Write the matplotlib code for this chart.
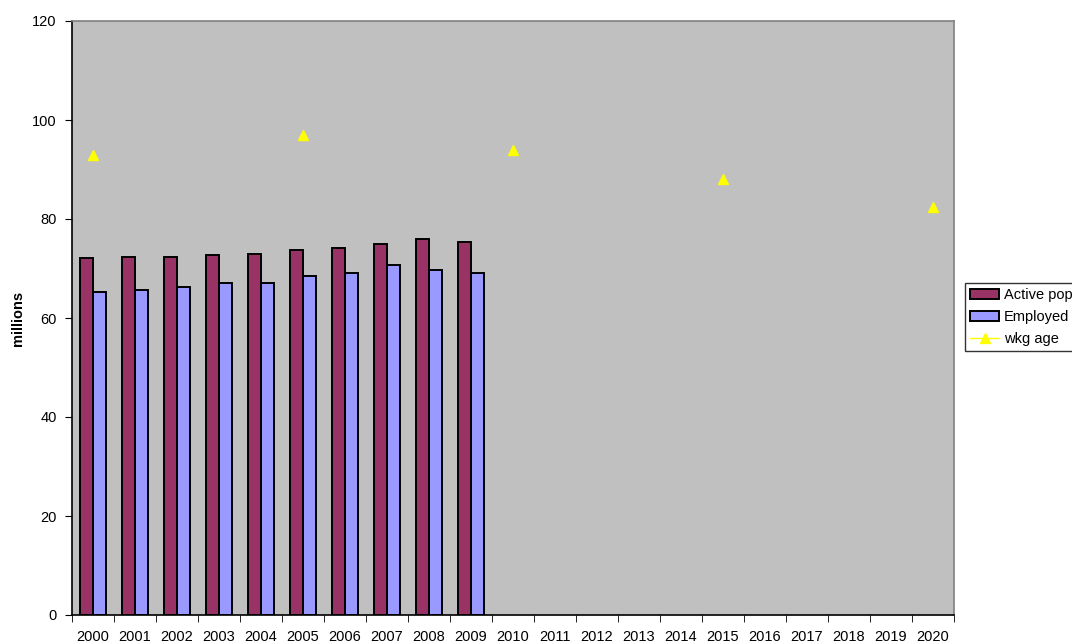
import numpy as np
import matplotlib
matplotlib.use('Agg')
from matplotlib import pyplot as plt

plt.rcParams['font.family'] = ['Liberation Sans', 'DejaVu Sans']

# Data
years = [str(y) for y in range(2000, 2021)]
active_pop = [72.2, 72.3, 72.4, 72.8, 72.9, 73.8, 74.2, 75.0, 76.0, 75.4]
employed = [65.2, 65.6, 66.2, 67.0, 67.0, 68.5, 69.0, 70.7, 69.6, 69.1]
wkg_age_years = [2000, 2005, 2010, 2015, 2020]
wkg_age = [93.0, 97.0, 94.0, 88.0, 82.5]

fig = plt.figure(figsize=(10.72, 6.44), dpi=100)
ax = fig.add_axes([72/1072, 29/644, (954-72)/1072, (615-21)/644])
ax.set_facecolor('#C0C0C0')

x = np.arange(len(years))
bar_w = 0.3

# Bars for the years that have data
xb = x[:len(active_pop)]
b1 = ax.bar(xb - bar_w/2, active_pop, width=bar_w, color='#993366',
            edgecolor='black', linewidth=1.4, label='Active pop', zorder=2)
b2 = ax.bar(xb + bar_w/2, employed, width=bar_w, color='#9999FF',
            edgecolor='black', linewidth=1.4, label='Employed', zorder=2)

# Working age series: only every 5th year, gaps elsewhere
wkg = np.full(len(years), np.nan)
for yr, v in zip(wkg_age_years, wkg_age):
    wkg[yr - 2000] = v
ln, = ax.plot(x, wkg, color='yellow', marker='^', markersize=7, linewidth=1,
              label='wkg age', zorder=3)

# Axes limits and ticks
ax.set_xlim(-0.5, len(years) - 0.5)
ax.set_ylim(0, 120)
ax.set_yticks(np.arange(0, 121, 20))
ax.set_xticks(x)
ax.set_xticklabels(years, fontsize=10.5)
ax.set_xticks(np.arange(-0.5, len(years), 1), minor=True)
ax.tick_params(axis='x', which='major', length=0, pad=11)
ax.tick_params(axis='x', which='minor', length=5, direction='out', color='black')
ax.tick_params(axis='y', length=5, direction='out', labelsize=10.5, pad=6)

ax.spines['left'].set_color('black')
ax.spines['bottom'].set_color('black')
ax.spines['top'].set_color('#808080')
ax.spines['right'].set_color('#808080')
for s in ax.spines.values():
    s.set_linewidth(1.2)

ax.set_ylabel('millions', fontsize=10.5, fontweight='bold', labelpad=5)

# Legend hangs off the right side of the figure, as in the original
leg = ax.legend([b1, b2, ln], ['Active pop', 'Employed', 'wkg age'],
                loc='upper left', bbox_to_anchor=(965/1072, (644-283)/644),
                bbox_transform=fig.transFigure, frameon=True, fancybox=False,
                edgecolor='black', fontsize=10.5, handlelength=2.0,
                handletextpad=0.3, borderpad=0.35, labelspacing=0.55,
                borderaxespad=0)
leg.get_frame().set_linewidth(1)

fig.savefig('out.png', dpi=100)
